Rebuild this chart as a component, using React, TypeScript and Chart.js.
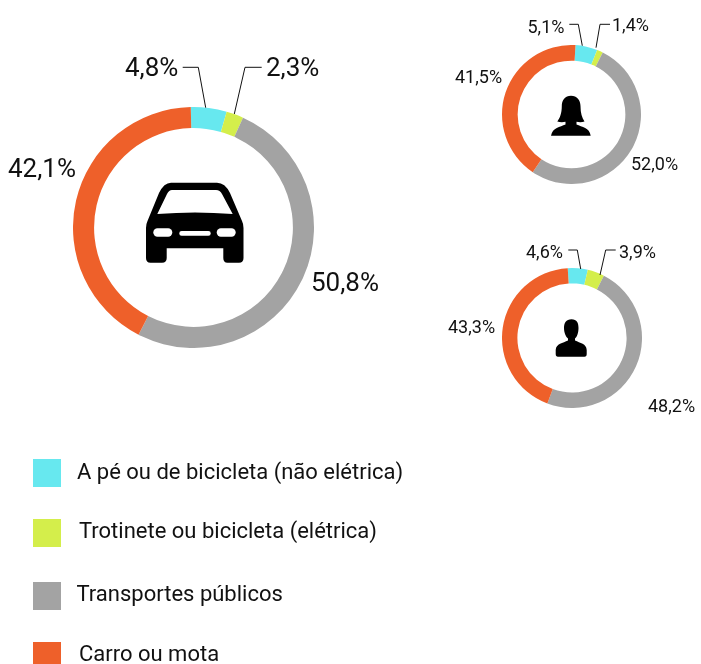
import React, { useEffect, useRef } from "react";
import { Chart, registerables } from "chart.js";

Chart.register(...registerables);

const categories = [
  "A pé ou de bicicleta (não elétrica)",
  "Trotinete ou bicicleta (elétrica)",
  "Transportes públicos",
  "Carro ou mota",
];
const colors = ["#67E8EF", "#D4EE4B", "#A3A3A3", "#EE602A"];
const allValues = [4.8, 2.3, 50.8, 42.1];
const womenValues = [5.1, 1.4, 52.0, 41.5];
const menValues = [4.6, 3.9, 48.2, 43.3];

const FONT = "Roboto, sans-serif";
const fmt = (v: number) => v.toFixed(1).replace(".", ",") + "%";

const donuts = [
  { values: allValues, left: 73, top: 107, size: 241, cutout: "82.5%", rotation: -1.3, fontSize: 26,
    labels: [[125, 67], [266, 67], [8, 168], [311, 282]] },
  { values: womenValues, left: 502, top: 45, size: 139, cutout: "77.5%", rotation: 3.3, fontSize: 18,
    labels: [[527.5, 27], [612, 25], [455, 77], [631, 164]] },
  { values: menValues, left: 502, top: 268, size: 140, cutout: "78%", rotation: -3.5, fontSize: 18,
    labels: [[526, 252], [619, 252], [448, 327], [648, 406]] },
];
// label order in each layout above: cyan, lime, grey, orange -> remapped below
const labelSlots = [
  [0, 1, 3, 2],
  [0, 1, 3, 2],
  [0, 1, 3, 2],
];

const leaders = [
  "182.7,67.3 198.3,67.3 205.7,107.7",
  "261.7,67.3 245,67.3 234.3,114",
  "569.3,24.3 578.3,24.3 582.3,45.7",
  "610,24.3 600,24.3 596,47.7",
  "568.3,250 577.3,250 580.7,269",
  "615.7,250 605.7,250 600,275",
];

const legendRows = [
  { box: 459, text: 472, x: 77 },
  { box: 519, text: 531, x: 79 },
  { box: 582, text: 594, x: 76.5 },
  { box: 642, text: 654, x: 79 },
];

function Donut({ d }: { d: (typeof donuts)[number] }) {
  const ref = useRef<HTMLCanvasElement>(null);
  useEffect(() => {
    const chart = new Chart(ref.current!, {
      type: "doughnut",
      data: {
        labels: categories,
        datasets: [{ data: d.values, backgroundColor: colors, borderWidth: 0 }],
      },
      options: {
        animation: false,
        responsive: false,
        cutout: d.cutout,
        rotation: d.rotation,
        layout: { padding: 0 },
        plugins: { legend: { display: false }, tooltip: { enabled: false } },
      },
    });
    return () => chart.destroy();
  }, []);
  return (
    <canvas
      ref={ref}
      width={d.size}
      height={d.size}
      style={{ position: "absolute", left: d.left, top: d.top, width: d.size, height: d.size }}
    />
  );
}

const Icons = () => (
  <svg width={701} height={664} style={{ position: "absolute", left: 0, top: 0 }}>
    {leaders.map((p, i) => (
      <polyline key={i} points={p} fill="none" stroke="#111" strokeWidth={1} />
    ))}
    {/* car */}
    <path
      d="M171 182.7 H217 Q225 182.7 230 193 L242 221 Q243.5 224 243.5 228 V258 Q243.5 262.7 239 262.7 H227.5 Q223.3 262.7 223.3 258 V248.3 H166.7 V258 Q166.7 262.7 162 262.7 H150.5 Q146 262.7 146 258 V228 Q146 224 147.5 221 L159 193 Q164 182.7 171 182.7 Z"
      fill="#000"
    />
    <path d="M172 190 H216 Q220 190 222 194 L232.7 214 Q195 211 157.3 214 L167 194 Q169 190 172 190 Z" fill="#fff" />
    <rect x={153.3} y={228.3} width={19} height={8.4} rx={4.2} fill="#fff" />
    <rect x={216.7} y={228.3} width={19} height={8.4} rx={4.2} fill="#fff" />
    <rect x={179.3} y={231} width={31.4} height={4.7} rx={2.3} fill="#fff" />
    {/* woman */}
    <path
      d="M571 95.7 C565 95.7 561.8 100 561.8 106 C561.8 113 560 118 557.3 121.5 C560 122.5 563 122.5 565.5 121.8 L565.5 124.5 C560 127 552.5 127.5 551 135.7 H590.7 C589.5 127.5 582 127 576.5 124.5 L576.5 121.8 C579 122.5 582 122.5 584.5 121.5 C582 118 580.5 113 580.5 106 C580.5 100 577 95.7 571 95.7 Z"
      fill="#000"
    />
    {/* man */}
    <path
      d="M571.5 319.3 C566 319.3 564 323 564 328 C564 333 566 337 568 338.5 V340.5 C563 343 556 343.5 555.7 350 V354 Q555.7 356.7 558 356.7 H584.5 Q586.7 356.7 586.7 354 V350 C586.5 343.5 580 343 575 340.5 V338.5 C577 337 578.5 333 578.5 328 C578.5 323 577 319.3 571.5 319.3 Z"
      fill="#000"
    />
  </svg>
);

export default function App() {
  useEffect(() => {
    document.body.style.margin = "0";
  }, []);
  return (
    <div style={{ position: "relative", width: 701, height: 664, overflow: "hidden", background: "#fff", fontFamily: FONT, color: "#111" }}>
      {donuts.map((d, i) => (
        <Donut key={i} d={d} />
      ))}
      <Icons />
      {donuts.map((d, i) =>
        d.labels.map(([x, y], j) => (
          <span
            key={`${i}-${j}`}
            style={{ position: "absolute", left: x, top: y, transform: "translateY(-50%)", fontSize: d.fontSize, lineHeight: 1, whiteSpace: "nowrap" }}
          >
            {fmt(d.values[labelSlots[i][j]])}
          </span>
        ))
      )}
      {categories.map((c, i) => (
        <React.Fragment key={c}>
          <div style={{ position: "absolute", left: 33, top: legendRows[i].box, width: 28, height: 28, background: colors[i] }} />
          <span
            style={{ position: "absolute", left: legendRows[i].x, top: legendRows[i].text, transform: "translateY(-50%)", fontSize: 22, lineHeight: 1, whiteSpace: "nowrap" }}
          >
            {c}
          </span>
        </React.Fragment>
      ))}
    </div>
  );
}
